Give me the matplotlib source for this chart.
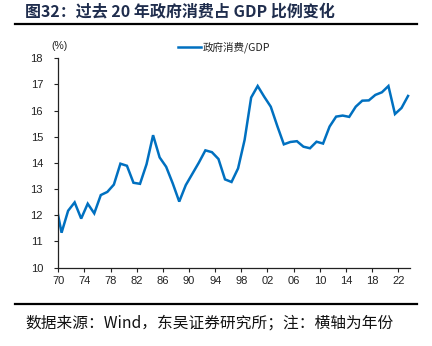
import numpy as np
import matplotlib
matplotlib.use('Agg')
import matplotlib.pyplot as plt
from matplotlib.lines import Line2D

plt.rcParams['font.family'] = ['Liberation Sans', 'Noto Sans CJK SC', 'DejaVu Sans']

# Government consumption / GDP (%)
years = np.arange(1970, 2025)
gov_share = [12.6, 11.33, 12.17, 12.49, 11.87, 12.44, 12.07, 12.77, 12.89, 13.17,
             13.97, 13.89, 13.24, 13.20, 13.95, 15.06, 14.21, 13.85, 13.22, 12.52,
             13.15, 13.58, 14.01, 14.48, 14.41, 14.15, 13.37, 13.27, 13.79, 14.88,
             16.50, 16.94, 16.53, 16.15, 15.41, 14.71, 14.80, 14.83, 14.62, 14.56,
             14.81, 14.74, 15.39, 15.77, 15.81, 15.76, 16.15, 16.38, 16.39, 16.60,
             16.70, 16.94, 15.87, 16.10, 16.56]
tick_labels = ['70', '74', '78', '82', '86', '90', '94', '98', '02', '06', '10', '14', '18', '22']

title = '图32：过去 20 年政府消费占 GDP 比例变化'
legend_label = '政府消费/GDP'
footer = '数据来源：Wind，东吴证券研究所；注：横轴为年份'

W, H = 432, 346
fig = plt.figure(figsize=(W / 100, H / 100), dpi=100)
ax = fig.add_axes([58.3 / W, 1 - 267.5 / H, (410 - 58.3) / W, (267.5 - 58.3) / H])

line, = ax.plot(years, gov_share, color='#0070C0', lw=1.8, solid_joinstyle='miter')

ax.set_ylim(10, 18)
ax.set_yticks(np.arange(10, 19, 1))
ax.set_xlim(1970.5, 2024.3)
ax.set_xticks(np.arange(1970.5, 2023, 4))
ax.set_xticklabels(tick_labels)

for s in ['top', 'right']:
    ax.spines[s].set_visible(False)
for s in ['left', 'bottom']:
    ax.spines[s].set_color('#222222')
    ax.spines[s].set_linewidth(0.9)
ax.tick_params(axis='both', direction='out', length=3, width=0.8, color='#222222',
               labelsize=8, labelcolor='#222222')
ax.tick_params(axis='y', pad=8)
ax.tick_params(axis='x', pad=3)

# unit label above the y axis
fig.text(59 / W, 1 - 46 / H, '(%)', ha='center', va='center', fontsize=7.5, color='#222222')

# legend
fig.add_artist(Line2D([178 / W, 201 / W], [1 - 47.3 / H, 1 - 47.3 / H],
                      color='#0070C0', lw=1.8))
fig.text(203 / W, 1 - 47.3 / H, legend_label, ha='left', va='center', fontsize=7.6,
         color='#222222', family=['Noto Sans CJK SC', 'DejaVu Sans'])

# title and rules
fig.text(25 / W, 1 - 11 / H, title, ha='left', va='center', fontsize=11.5,
         fontweight='bold', color='#1f2d4d', family=['Noto Sans CJK SC', 'DejaVu Sans'])
fig.add_artist(Line2D([15 / W, 417 / W], [1 - 24.3 / H, 1 - 24.3 / H], color='black', lw=1.6))
fig.add_artist(Line2D([15 / W, 417 / W], [1 - 304 / H, 1 - 304 / H], color='black', lw=1.6))

fig.text(25 / W, 1 - 323 / H, footer, ha='left', va='center', fontsize=11.3,
         color='#111111', family=['Noto Sans CJK SC', 'DejaVu Sans'])

fig.savefig('out.png', dpi=100)
